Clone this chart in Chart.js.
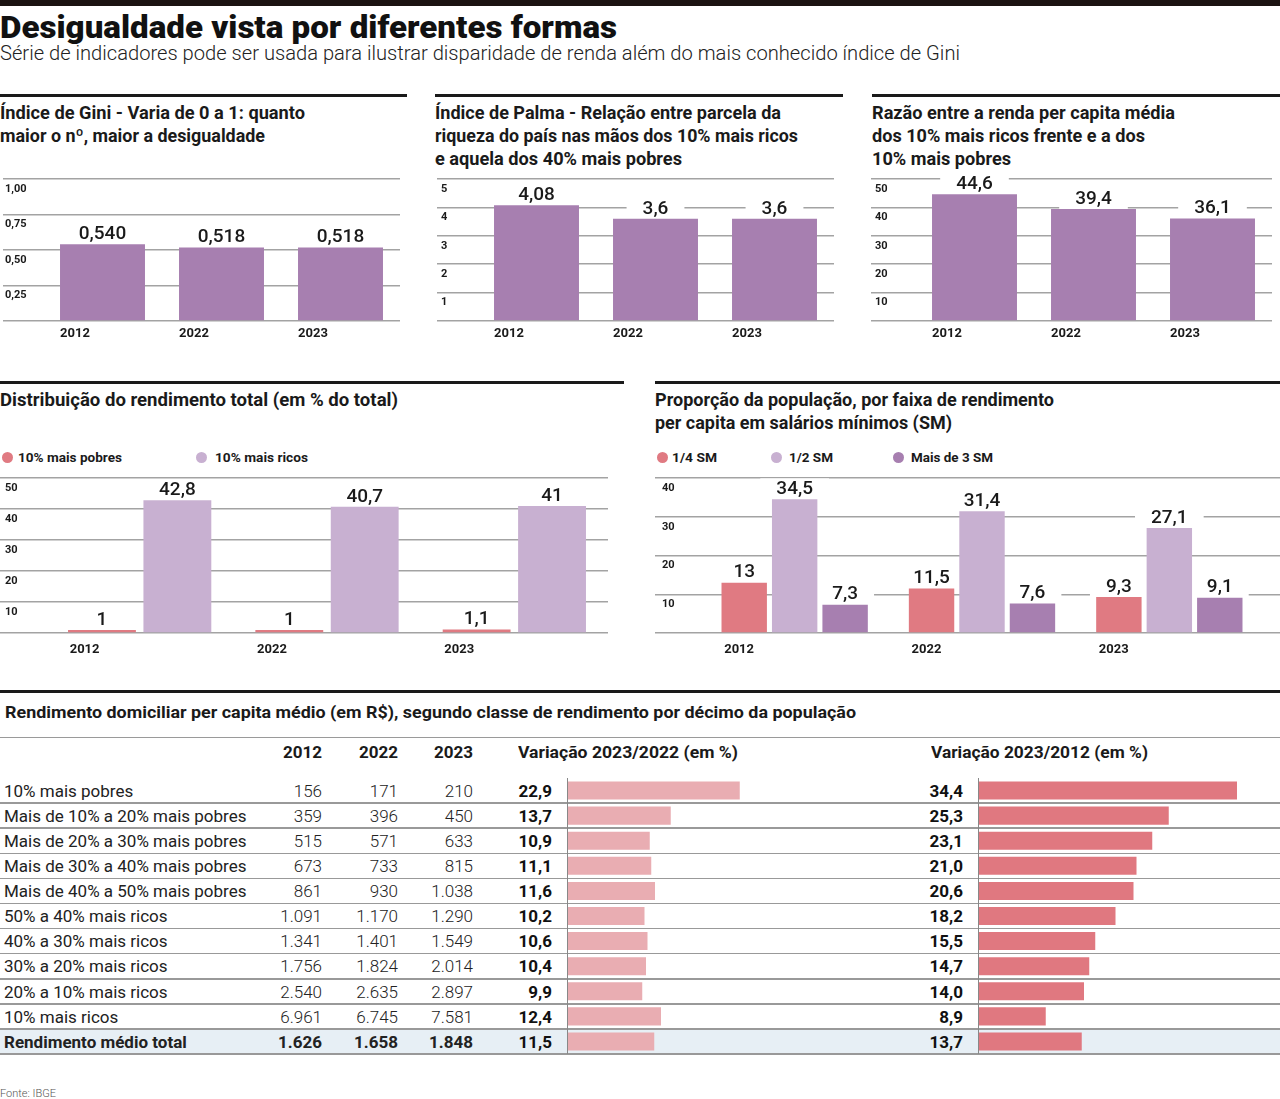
<!DOCTYPE html>
<html><head><meta charset="utf-8">
<script src="https://cdn.jsdelivr.net/npm/chart.js@4.4.1/dist/chart.umd.min.js"></script>
<style>
html,body{margin:0;padding:0;background:#fff;}
#page{position:relative;width:1280px;height:1099px;overflow:hidden;background:#fff;font-family:Roboto,sans-serif;}
#page canvas{position:absolute;}
.d{position:absolute;}
</style></head><body><div id="page"></div>
<script>
// ---------- DATA ----------
const years = ['2012', '2022', '2023'];
const gini = [0.540, 0.518, 0.518];
const palma = [4.08, 3.6, 3.6];
const razao = [44.6, 39.4, 36.1];
const distSeries = ['10% mais pobres', '10% mais ricos'];
const distPobres = [1, 1, 1.1];
const distRicos = [42.8, 40.7, 41];
const propSeries = ['1/4 SM', '1/2 SM', 'Mais de 3 SM'];
const propQuarto = [13, 11.5, 9.3];
const propMeio = [34.5, 31.4, 27.1];
const propTres = [7.3, 7.6, 9.1];
const classes = ['10% mais pobres', 'Mais de 10% a 20% mais pobres', 'Mais de 20% a 30% mais pobres',
  'Mais de 30% a 40% mais pobres', 'Mais de 40% a 50% mais pobres', '50% a 40% mais ricos',
  '40% a 30% mais ricos', '30% a 20% mais ricos', '20% a 10% mais ricos', '10% mais ricos',
  'Rendimento médio total'];
const renda2012 = [156, 359, 515, 673, 861, 1091, 1341, 1756, 2540, 6961, 1626];
const renda2022 = [171, 396, 571, 733, 930, 1170, 1401, 1824, 2635, 6745, 1658];
const renda2023 = [210, 450, 633, 815, 1038, 1290, 1549, 2014, 2897, 7581, 1848];
const var2322 = [22.9, 13.7, 10.9, 11.1, 11.6, 10.2, 10.6, 10.4, 9.9, 12.4, 11.5];
const var2312 = [34.4, 25.3, 23.1, 21.0, 20.6, 18.2, 15.5, 14.7, 14.0, 8.9, 13.7];
const tableHeaders = ['2012', '2022', '2023', 'Variação 2023/2022 (em %)', 'Variação 2023/2012 (em %)'];

// ---------- STYLE ----------
const PURPLE = '#a77fb0', LILAC = '#c8b0d1', RED = '#e07a82', PINK = '#e9adb2', RED2 = '#e07880';
const GRID = '#a3a3a3', INK = '#1a1a1a';
const page = document.getElementById('page');

function box(x, y, w, h, color, extra) {
  const d = document.createElement('div');
  d.className = 'd';
  d.style.cssText += `left:${x}px;top:${y}px;width:${w}px;height:${h}px;background:${color};` + (extra || '');
  page.appendChild(d); return d;
}
function T(str, x, base, o = {}) {
  const fs = o.size || 17;
  const el = document.createElement('span');
  el.textContent = str;
  el.style.cssText = `position:absolute;white-space:nowrap;font-family:Roboto;font-size:${fs}px;line-height:${fs}px;font-weight:${o.weight || 400};color:${o.color || INK};top:${base - 0.8415 * fs}px;`;
  if (o.align === 'right') { el.style.right = (1280 - x) + 'px'; el.style.transformOrigin = 'right center'; }
  else { el.style.left = x + 'px'; el.style.transformOrigin = 'left center'; }
  page.appendChild(el);
  if (o.w) { const w = el.getBoundingClientRect().width; el.style.transform = `scaleX(${o.w / w})`; }
  return el;
}
function cv(x, y, w, h) {
  const c = document.createElement('canvas');
  c.width = w; c.height = h;
  c.style.left = x + 'px'; c.style.top = y + 'px'; c.style.width = w + 'px'; c.style.height = h + 'px';
  page.appendChild(c); return c;
}
const comma = v => String(v).replace('.', ',');
const fmtInt = n => String(n).replace(/\B(?=(\d{3})+(?!\d))/g, '.');
const fmtDec = n => n.toFixed(1).replace('.', ',');

// ---------- HEADER ----------
box(0, 0, 1280, 6, '#1b1311');
T('Desigualdade vista por diferentes formas', 0, 38, {size: 32, weight: 900, w: 617, color: '#111'});
T('Série de indicadores pode ser usada para ilustrar disparidade de renda além do mais conhecido índice de Gini', 0, 61, {size: 21, weight: 300, w: 960, color: '#222'});

// row 1 rules & titles
box(0, 94, 407, 3, INK); box(435, 94, 408, 3, INK); box(872, 94, 408, 3, INK);
const B1 = [119, 142, 165];
T('Índice de Gini - Varia de 0 a 1: quanto', 0, B1[0], {size: 18, weight: 700, w: 305});
T('maior o nº, maior a desigualdade', 0, B1[1], {size: 18, weight: 700, w: 265});
T('Índice de Palma - Relação entre parcela da', 435, B1[0], {size: 18, weight: 700, w: 346});
T('riqueza do país nas mãos dos 10% mais ricos', 435, B1[1], {size: 18, weight: 700, w: 363});
T('e aquela dos 40% mais pobres', 435, B1[2], {size: 18, weight: 700, w: 247});
T('Razão entre a renda per capita média', 872, B1[0], {size: 18, weight: 700, w: 303});
T('dos 10% mais ricos frente e a dos', 872, B1[1], {size: 18, weight: 700, w: 273});
T('10% mais pobres', 872, B1[2], {size: 18, weight: 700, w: 139});

// row 2 rules, titles, legends
box(0, 381, 624, 3, INK); box(655, 381, 625, 3, INK);
T('Distribuição do rendimento total (em % do total)', 0, 406, {size: 18, weight: 700, w: 398});
T('Proporção da população, por faixa de rendimento', 655, 406, {size: 18, weight: 700, w: 399});
T('per capita em salários mínimos (SM)', 655, 429, {size: 18, weight: 700, w: 297});
function dot(cx, cy, color) { box(cx - 5.5, cy - 5.5, 11, 11, color, 'border-radius:50%;'); }
dot(7.5, 457.5, RED); T(distSeries[0], 18, 462, {size: 13, weight: 700, w: 104});
dot(201.5, 457.5, LILAC); T(distSeries[1], 215, 462, {size: 13, weight: 700, w: 93});
dot(662, 457.5, RED); T(propSeries[0], 672, 462, {size: 13, weight: 700, w: 45});
dot(776, 457.5, LILAC); T(propSeries[1], 789, 462, {size: 13, weight: 700, w: 44});
dot(898, 457.5, PURPLE); T(propSeries[2], 911, 462, {size: 13, weight: 700, w: 82});

// ---------- TABLE ----------
box(0, 690, 1280, 3, INK);
T('Rendimento domiciliar per capita médio (em R$), segundo classe de rendimento por décimo da população', 5, 718, {size: 17, weight: 700, w: 851});
box(0, 736.5, 1280, 1.5, '#9a9a9a');
T(tableHeaders[0], 322, 758, {size: 17, weight: 700, align: 'right'});
T(tableHeaders[1], 398, 758, {size: 17, weight: 700, align: 'right'});
T(tableHeaders[2], 473, 758, {size: 17, weight: 700, align: 'right'});
T(tableHeaders[3], 518, 758, {size: 17, weight: 700, w: 220});
T(tableHeaders[4], 931, 758, {size: 17, weight: 700, w: 217});
const ROW0 = 778, RH = 25.1;
box(0, ROW0 + RH * 10, 1280, RH, '#e7eff5');
for (let i = 0; i < classes.length; i++) box(0, ROW0 + RH * (i + 1) - 0.75, 1280, 1.5, '#999');
box(566.5, ROW0, 1.5, RH * 11, '#888');
box(977.5, ROW0, 1.5, RH * 11, '#888');
classes.forEach((c, i) => {
  const base = ROW0 + RH * i + RH / 2 + 6.5;
  const last = i === classes.length - 1;
  const wN = last ? 700 : 300;
  T(c, 4, base, {size: 17, weight: last ? 700 : 400, color: '#222'});
  T(fmtInt(renda2012[i]), 322, base, {size: 17, weight: wN, align: 'right', color: '#222'});
  T(fmtInt(renda2022[i]), 398, base, {size: 17, weight: wN, align: 'right', color: '#222'});
  T(fmtInt(renda2023[i]), 473, base, {size: 17, weight: wN, align: 'right', color: '#222'});
  T(fmtDec(var2322[i]), 552, base, {size: 17, weight: 700, align: 'right', color: '#111'});
  T(fmtDec(var2312[i]), 963, base, {size: 17, weight: 700, align: 'right', color: '#111'});
});
T('Fonte: IBGE', 0, 1097, {size: 11, weight: 300, color: '#555'});

// ---------- CHARTS ----------
Chart.defaults.font.family = 'Roboto';
Chart.defaults.color = INK;
const LGAP = 10;
const vlab = {
  id: 'vlab',
  beforeDatasetsDraw(chart, a, o) {
    if (!o || !o.fmt) return;
    const ctx = chart.ctx; ctx.save(); ctx.font = '500 19px Roboto'; ctx.fillStyle = '#fff';
    chart.data.datasets.forEach((ds, di) => chart.getDatasetMeta(di).data.forEach((el, i) => {
      const w = ctx.measureText(o.fmt(ds.data[i])).width + o.pad;
      ctx.fillRect(el.x - w / 2, el.y - LGAP - 11, w, 22);
    }));
    ctx.restore();
  },
  afterDatasetsDraw(chart, a, o) {
    if (!o || !o.fmt) return;
    const ctx = chart.ctx; ctx.save(); ctx.font = '500 19px Roboto'; ctx.fillStyle = INK;
    ctx.textAlign = 'center'; ctx.textBaseline = 'middle';
    chart.data.datasets.forEach((ds, di) => chart.getDatasetMeta(di).data.forEach((el, i) => {
      ctx.fillText(o.fmt(ds.data[i]), el.x, el.y - LGAP);
    }));
    ctx.restore();
  }
};
Chart.register(vlab);

function vbar(cfg) {
  const c = cv(cfg.x, cfg.y, cfg.w, cfg.h);
  const scales = {
    x: {offset: true, grid: {display: false}, border: {display: false},
      ticks: {align: 'start', labelOffset: cfg.xOff, padding: cfg.xPad, color: INK, autoSkip: false, maxRotation: 0,
        font: {size: 13, weight: 'bold'}},
      afterFit: s => { s.height = cfg.xH; }},
    y: {min: 0, max: cfg.max, border: {display: false},
      grid: {color: GRID, lineWidth: 1.5, drawTicks: true, tickLength: cfg.axisW, tickColor: GRID, tickWidth: 1.5},
      ticks: {stepSize: cfg.step, crossAlign: 'far', labelOffset: 10, padding: 0, color: INK,
        font: {size: 11, weight: 'bold'}, callback: v => v === 0 ? '' : cfg.yFmt(v)},
      afterFit: s => { s.width = cfg.axisW - cfg.inset; }}
  };
  if (cfg.rightW) {
    scales.y2 = {position: 'right', min: 0, max: cfg.max, border: {display: false},
      grid: {drawOnChartArea: false, drawTicks: true, tickLength: cfg.rightW, color: GRID, tickColor: GRID, lineWidth: 1.5, tickWidth: 1.5},
      ticks: {display: false, stepSize: cfg.step},
      afterFit: s => { s.width = cfg.rightW; }};
  }
  return new Chart(c, {
    type: 'bar',
    data: {labels: years, datasets: cfg.datasets},
    options: {responsive: false, animation: false, devicePixelRatio: 1,
      layout: {padding: {top: cfg.padTop, left: cfg.inset, right: 0, bottom: 0}},
      plugins: {legend: {display: false}, tooltip: {enabled: false}, vlab: {fmt: cfg.fmt, pad: 32}},
      scales}
  });
}
const one = (label, data, color, b, cp) => ({label, data, backgroundColor: color, barPercentage: b, categoryPercentage: cp});

vbar({x: 3, y: 170, w: 397, h: 175, axisW: 40, inset: 2, padTop: 9, xH: 24, xPad: -3, xOff: -42.5,
  max: 1, step: 0.25, yFmt: v => v.toFixed(2).replace('.', ','), fmt: v => v.toFixed(3).replace('.', ','),
  datasets: [one('Índice de Gini', gini, PURPLE, 0.714, 1)]});
vbar({x: 437, y: 170, w: 397, h: 175, axisW: 40, inset: 4, padTop: 9, xH: 24, xPad: -3, xOff: -42.5,
  max: 5, step: 1, yFmt: v => String(v), fmt: comma,
  datasets: [one('Índice de Palma', palma, PURPLE, 0.714, 1)]});
vbar({x: 871, y: 170, w: 401, h: 175, axisW: 44, inset: 4, padTop: 9, xH: 24, xPad: -3, xOff: -42.5,
  max: 50, step: 10, yFmt: v => String(v), fmt: comma,
  datasets: [one('Razão', razao, PURPLE, 0.714, 1)]});
vbar({x: 0, y: 468, w: 608, h: 191, axisW: 46, inset: 5, padTop: 10, xH: 26, xPad: 1, xOff: -70,
  max: 50, step: 10, yFmt: v => String(v), fmt: comma,
  datasets: [one(distSeries[0], distPobres, RED, 0.9, 0.805), one(distSeries[1], distRicos, LILAC, 0.9, 0.805)]});
vbar({x: 655, y: 468, w: 625, h: 191, axisW: 46, inset: 7, rightW: 17, padTop: 10, xH: 26, xPad: 1, xOff: -70.5,
  max: 40, step: 10, yFmt: v => String(v), fmt: comma,
  datasets: [one(propSeries[0], propQuarto, RED, 0.9, 0.808), one(propSeries[1], propMeio, LILAC, 0.9, 0.808),
    one(propSeries[2], propTres, PURPLE, 0.9, 0.808)]});

function hbar(x, data, color) {
  const c = cv(x, ROW0, 300, Math.round(RH * 11));
  new Chart(c, {
    type: 'bar',
    data: {labels: classes, datasets: [{data, backgroundColor: color, barPercentage: 0.72, categoryPercentage: 1}]},
    options: {indexAxis: 'y', responsive: false, animation: false, devicePixelRatio: 1, layout: {padding: 0},
      plugins: {legend: {display: false}, tooltip: {enabled: false}},
      scales: {x: {display: false, min: 0, max: 40}, y: {display: false}}}
  });
}
hbar(568, var2322, PINK);
hbar(979, var2312, RED2);
</script></body></html>
